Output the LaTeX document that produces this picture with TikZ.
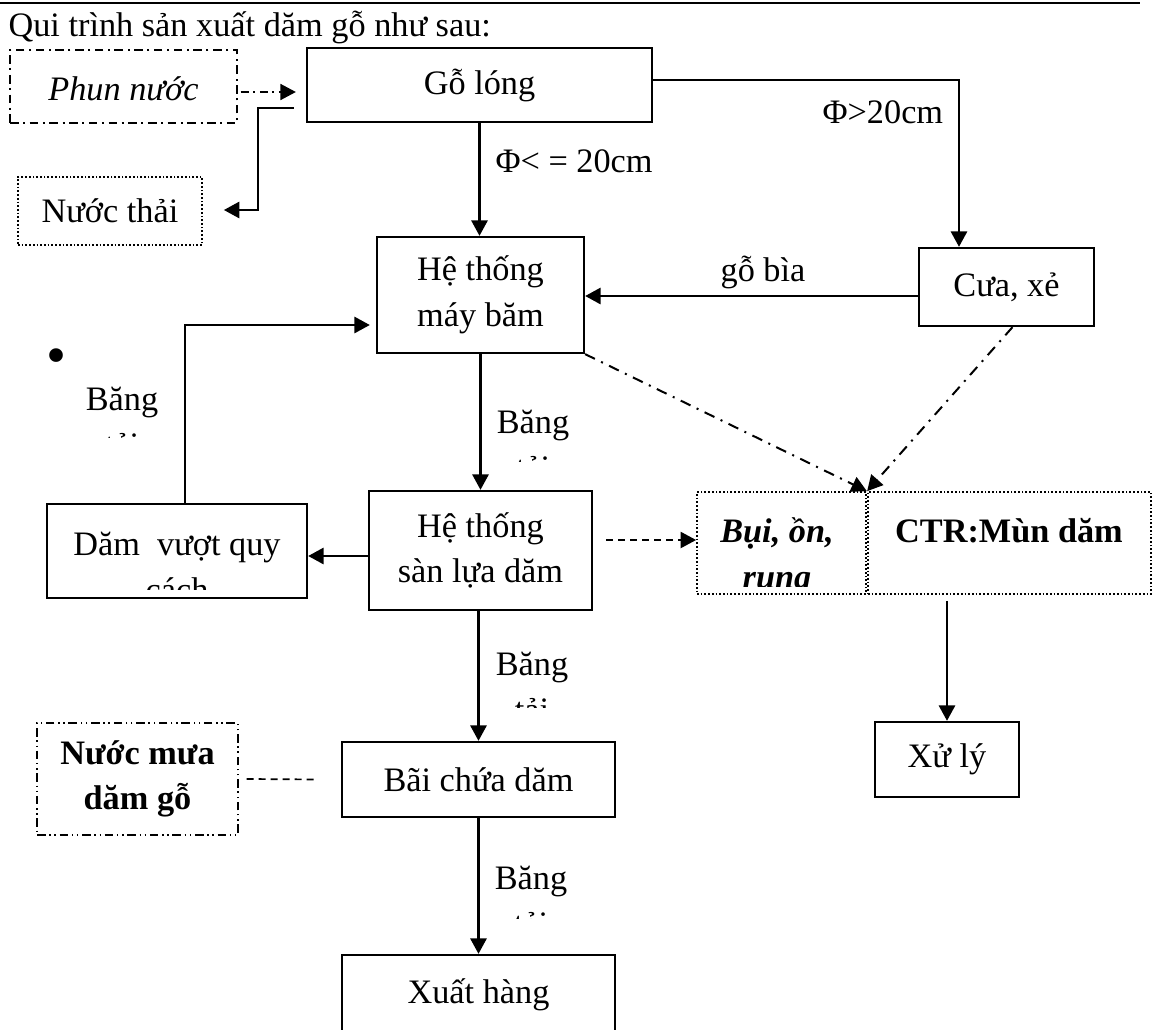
\documentclass[tikz,border=0pt]{standalone}
\usepackage{fontspec}
\setmainfont{Liberation Serif}
\usetikzlibrary{arrows.meta}
\newdimen\pxu \pxu=0.35pt
\newcommand{\diagfont}{\fontsize{12}{16}\selectfont}

\begin{document}
\begin{tikzpicture}[
    x=0.35pt, y=-0.35pt,
    font=\diagfont,
    box/.style={draw, line width=0.8pt, inner sep=0pt, align=center},
    dotbox/.style={draw, line width=0.6pt, dash pattern=on 0.6pt off 0.7pt, inner sep=0pt, align=center},
    dashdotbox/.style={draw, line width=0.6pt, dash pattern=on 3pt off 1.6pt on 0.7pt off 1.6pt, inner sep=0pt, align=center},
    dashdotdotbox/.style={draw, line width=0.5pt, dash pattern=on 3pt off 1.3pt on 0.5pt off 1.3pt on 0.5pt off 1.3pt, inner sep=0pt, align=center},
    txt/.style={inner sep=0pt, align=center},
    arr/.style={-{Triangle[length=5.4pt,width=5.6pt]}, line width=0.95pt},
    dasharr/.style={-{Triangle[length=5.4pt,width=5.6pt]}, line width=0.7pt, dash pattern=on 2.4pt off 1.8pt},
    ddarr/.style={-{Triangle[length=5.4pt,width=5.6pt]}, line width=0.7pt, dash pattern=on 3.8pt off 2.4pt on 0.7pt off 2.4pt},
    dashline/.style={line width=0.6pt, dash pattern=on 2.4pt off 1.8pt}
]
\useasboundingbox (0,0) rectangle (1156,1030);

% Tieu de
\draw[line width=0.6pt] (0,3) -- (1140,3);
\node[txt, anchor=base west] (title) at (8,36) {Qui trình sản xuất dăm gỗ như sau:};

% Cac khoi chinh
\node[dashdotbox, font=\diagfont\itshape, minimum width=227\pxu, minimum height=73\pxu, text height=12pt, text depth=2.5pt] (phun) at (123.5,86.5) {Phun nước};
\node[box, minimum width=345\pxu, minimum height=74\pxu] (goLong) at (479.5,85) {Gỗ lóng};
\node[dotbox, minimum width=184\pxu, minimum height=68\pxu] (nuocThai) at (110,211) {Nước thải};
\node[box, minimum width=207\pxu, minimum height=116\pxu] (mayBam) at (480.5,295) {Hệ thống\\máy băm};
\node[box, minimum width=175\pxu, minimum height=78\pxu] (cuaXe) at (1006.5,287) {Cưa, xẻ};
\node[box, minimum width=260\pxu, minimum height=94\pxu] (damVuot) at (177,551) {};
\node[box, minimum width=223\pxu, minimum height=119\pxu] (sanLua) at (480.5,550.5) {Hệ thống\\sàn lựa dăm};
\node[dotbox, minimum width=169\pxu, minimum height=102\pxu] (bui) at (781.5,543) {};
\node[dotbox, minimum width=283\pxu, minimum height=102\pxu] (ctr) at (1009.5,543) {};
\node[dashdotdotbox, font=\diagfont\bfseries, minimum width=201\pxu, minimum height=112\pxu] (nuocMua) at (137.5,779) {Nước mưa\\dăm gỗ};
\node[box, minimum width=273\pxu, minimum height=75\pxu] (baiChua) at (478.5,779.5) {Bãi chứa dăm};
\node[box, minimum width=273\pxu, minimum height=80\pxu] (xuatHang) at (478.5,995) {Xuất hàng};
\node[box, minimum width=144\pxu, minimum height=75\pxu] (xuLy) at (947,759.5) {Xử lý};

% Chu bi cat trong khung
\begin{scope}
  \clip (50,507) rectangle (304,589);
  \node[txt, anchor=north] (damVuotTxt) at (177,523) {\strut Dăm\ \ vượt quy\\cách};
\end{scope}
\begin{scope}
  \clip (700,495) rectangle (863,586);
  \node[txt, anchor=north, font=\diagfont\bfseries\itshape] (buiTxt) at (777,510) {\strut Bụi, ồn,\\rung};
\end{scope}
\node[txt, anchor=base, font=\diagfont\bfseries] (ctrTxt) at (1009,542) {CTR:Mùn dăm};

% Nhan bang tai
\node[txt, font=\fontsize{20}{20}\selectfont] (dot) at (57,362) {•};
\begin{scope}
  \clip (70,370) rectangle (175,437);
  \node[txt, anchor=north] (bangLoop) at (122,378) {\strut Băng\\tải};
\end{scope}
\begin{scope}
  \clip (490,395) rectangle (580,461);
  \node[txt, anchor=north] (bangA) at (533,401) {\strut Băng\\tải};
\end{scope}
\begin{scope}
  \clip (490,640) rectangle (580,707);
  \node[txt, anchor=north] (bangB) at (532,643) {\strut Băng\\tải};
\end{scope}
\begin{scope}
  \clip (490,850) rectangle (580,918);
  \node[txt, anchor=north] (bangC) at (531,857) {\strut Băng\\tải};
\end{scope}

% Luong nuoc
\draw[ddarr, line width=0.6pt, dash pattern=on 2.8pt off 1.6pt on 0.7pt off 1.6pt] ([xshift=1pt]phun.east |- 0,92) -- ([xshift=-3.5pt]goLong.west |- 0,92);
\draw[arr] ([xshift=-12\pxu]goLong.west |- 0,108) -| (258,210) -- ([xshift=21\pxu]nuocThai.east |- 0,210);

% Phan loai go
\draw[arr] (goLong.south) -- (goLong.south |- mayBam.north);
\node[txt, anchor=base west] (phiSmall) at (495,172) {Φ< = 20cm};
\draw[arr] (goLong.east |- 0,80) -| (959,0 |- cuaXe.north);
\node[txt, anchor=base west] (phiBig) at (822,123) {Φ>20cm};
\draw[arr] (cuaXe.west |- 0,296) -- (mayBam.east |- 0,296);
\node[txt, anchor=base] (goBia) at (763,281) {gỗ bìa};

% Bang tai
\draw[arr] (185,0 |- damVuot.north) |- ([xshift=-6\pxu]mayBam.west |- 0,325);
\draw[arr] (mayBam.south) -- (mayBam.south |- sanLua.north);
\draw[arr] (sanLua.west |- 0,556) -- (damVuot.east |- 0,556);
\draw[arr] (baiChua.north |- sanLua.south) -- (baiChua.north);
\draw[arr] (baiChua.south) -- (xuatHang.north);

% Chat thai
\draw[ddarr] (mayBam.south east) -- (bui.north east);
\draw[ddarr] ([xshift=6\pxu]cuaXe.south) -- (ctr.north west);
\draw[dasharr] ([xshift=13\pxu]sanLua.east |- 0,540) -- (bui.west |- 0,540);
\draw[dashline] ([xshift=8\pxu]nuocMua.east) -- ([xshift=-23\pxu]baiChua.west);
\draw[arr] ([yshift=-6\pxu]xuLy.north |- ctr.south) -- (xuLy.north);

\end{tikzpicture}
\end{document}
